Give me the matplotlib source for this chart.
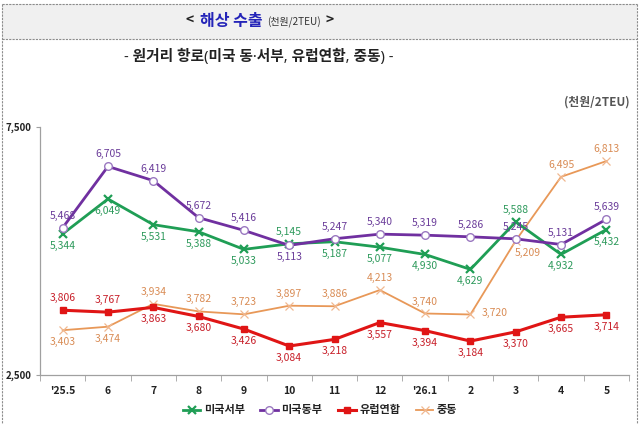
import matplotlib
matplotlib.use("Agg")
import matplotlib.pyplot as plt
from matplotlib.patches import Rectangle
from matplotlib.lines import Line2D

plt.rcParams['font.family'] = ['Noto Sans CJK KR', 'DejaVu Sans']

categories = ["'25.5", "6", "7", "8", "9", "10", "11", "12", "'26.1", "2", "3", "4", "5"]
us_west = [5344, 6049, 5531, 5388, 5033, 5145, 5187, 5077, 4930, 4629, 5588, 4932, 5432]
us_east = [5468, 6705, 6419, 5672, 5416, 5113, 5247, 5340, 5319, 5286, 5245, 5131, 5639]
eu = [3806, 3767, 3863, 3680, 3426, 3084, 3218, 3557, 3394, 3184, 3370, 3665, 3714]
mideast = [3403, 3474, 3934, 3782, 3723, 3897, 3886, 4213, 3740, 3720, 5209, 6495, 6813]
series_names = ["미국서부", "미국동부", "유럽연합", "중동"]
y_ticks = [2500, 7500]
y_ticklabels = ["2,500", "7,500"]

# label placement: 'a' above, 'b' below, 'r' right, 'br' below-right
west_pos = ['b', 'b', 'b', 'b', 'b', 'a', 'b', 'b', 'b', 'b', 'a', 'b', 'b']
east_pos = ['a', 'a', 'a', 'a', 'a', 'b', 'a', 'a', 'a', 'a', 'a', 'a', 'a']
eu_pos = ['a', 'a', 'b', 'b', 'b', 'b', 'b', 'b', 'b', 'b', 'b', 'b', 'b']
me_pos = ['b', 'b', 'a', 'a', 'a', 'a', 'a', 'a', 'a', 'r', 'br', 'a', 'a']

W, H = 640, 424
fig = plt.figure(figsize=(6.4, 4.24), dpi=100)

def fx(px):
    return px / W

def fy(py):
    return 1 - py / H

# header band and borders
fig.patches.append(Rectangle((fx(2), fy(39)), fx(635), 35 / H, transform=fig.transFigure,
                             facecolor='#f0f0f0', edgecolor='none', zorder=0))
border_kw = dict(transform=fig.transFigure, color='#8c8c8c', lw=0.8, ls=(0, (2, 1)))
fig.lines.append(Line2D([fx(2), fx(637)], [fy(4), fy(4)], **border_kw))
fig.lines.append(Line2D([fx(2), fx(637)], [fy(39), fy(39)], **border_kw))
fig.lines.append(Line2D([fx(2), fx(2)], [fy(4), fy(424)], **border_kw))
fig.lines.append(Line2D([fx(637), fx(637)], [fy(4), fy(424)], **border_kw))

# titles
fig.text(fx(186), fy(21), "<", ha='left', va='center', fontsize=10, fontweight='bold', color='#222222')
fig.text(fx(200), fy(21), "해상 수출", ha='left', va='center', fontsize=11.5, fontweight='bold', color='#2424b8')
fig.text(fx(267), fy(22), "(천원/2TEU)", ha='left', va='center', fontsize=7.2, color='#333333')
fig.text(fx(325), fy(21), ">", ha='left', va='center', fontsize=10, fontweight='bold', color='#222222')
fig.text(fx(259), fy(57), "- 원거리 항로(미국 동·서부, 유럽연합, 중동) -", ha='center', va='center',
         fontsize=10.6, fontweight='bold', color='#222222', family=['Noto Sans', 'Noto Sans CJK KR'])
fig.text(fx(630), fy(102), "(천원/2TEU)", ha='right', va='center', fontsize=8.5, fontweight='bold', color='#555555')

ax = fig.add_axes([fx(40), fy(375), fx(629) - fx(40), (375 - 127) / H])
x = list(range(len(categories)))

c_west, c_east, c_eu, c_me = '#1f9e55', '#7030a0', '#e01515', '#e89858'
t_west, t_east, t_eu, t_me = '#2e9a5c', '#6b3d9a', '#c8202a', '#d98c55'

ax.plot(x, us_west, color=c_west, lw=2.0, marker='x', ms=6, mew=1.6, zorder=3, label=series_names[0])
ax.plot(x, us_east, color=c_east, lw=2.0, marker='o', ms=5.5, mfc='white', mec='#9a78c0', mew=1.0,
        zorder=4, label=series_names[1])
ax.plot(x, eu, color=c_eu, lw=2.2, marker='s', ms=5, zorder=3, label=series_names[2])
ax.plot(x, mideast, color=c_me, lw=1.3, marker='x', ms=6, mew=0.9, mec='#f0b890', zorder=2,
        label=series_names[3])

def put_labels(vals, pos, col):
    for i, v in enumerate(vals):
        p = pos[i]
        if p == 'a':
            off, ha = (0, 12), 'center'
        elif p == 'b':
            off, ha = (0, -12), 'center'
        elif p == 'r':
            off, ha = (11, 2), 'left'
        else:
            off, ha = (12, -12), 'center'
        ax.annotate(f"{v:,}", (i, v), xytext=off, textcoords='offset pixels', ha=ha, va='center',
                    fontsize=7.5, color=col, zorder=6)

put_labels(us_west, west_pos, t_west)
put_labels(us_east, east_pos, t_east)
put_labels(eu, eu_pos, t_eu)
put_labels(mideast, me_pos, t_me)

ax.set_xlim(-0.5, len(categories) - 0.5)
ax.set_ylim(2500, 7500)
ax.set_xticks(x)
ax.set_xticklabels(categories, fontsize=7.5, fontweight='bold', color='#222222')
ax.set_xticks([i + 0.5 for i in range(-1, len(categories))], minor=True)
ax.tick_params(axis='x', which='major', length=0, pad=8)
ax.tick_params(axis='x', which='minor', length=4, color='#a0a0a0', direction='out')
ax.set_yticks(y_ticks)
ax.set_yticklabels(y_ticklabels, fontsize=7, fontweight='bold', color='#222222')
ax.tick_params(axis='y', length=3, color='#a0a0a0', pad=3)
for s in ['top', 'right']:
    ax.spines[s].set_visible(False)
for s in ['left', 'bottom']:
    ax.spines[s].set_color('#a0a0a0')
    ax.spines[s].set_linewidth(0.9)
ax.patch.set_alpha(0)

leg = fig.legend(loc='center', bbox_to_anchor=(fx(320), fy(410)), ncol=4, frameon=False,
                 fontsize=8, handlelength=1.6, handletextpad=0.3, columnspacing=1.4)
for t in leg.get_texts():
    t.set_fontweight('bold')
    t.set_color('#222222')

fig.savefig("out.png", dpi=100)
